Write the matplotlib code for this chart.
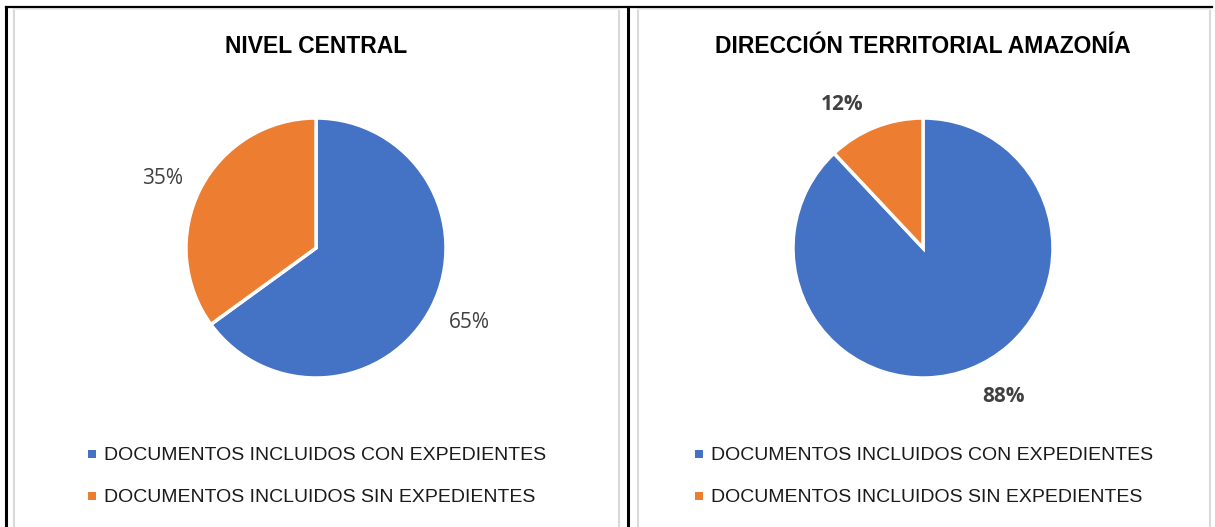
import matplotlib
matplotlib.use("Agg")
import numpy as np
import matplotlib.pyplot as plt
from matplotlib.lines import Line2D
from matplotlib.patches import Rectangle

# Data
categories = ["DOCUMENTOS INCLUIDOS CON EXPEDIENTES",
              "DOCUMENTOS INCLUIDOS SIN EXPEDIENTES"]
titles = ["NIVEL CENTRAL", "DIRECCIÓN TERRITORIAL AMAZONÍA"]
values_central = [65, 35]
values_amazonia = [88, 12]
colors = ["#4472C4", "#ED7D31"]

W, H = 1215, 527
fig = plt.figure(figsize=(W / 100, H / 100), dpi=100)
fig.patch.set_facecolor("white")

sans = ["Liberation Sans", "DejaVu Sans"]
label_font = ["Open Sans", "DejaVu Sans"]


def px(x, y):
    """Pixel (from top-left) to figure fraction."""
    return x / W, 1 - y / H


def draw_panel(cx, values, title, bold_labels, label_dist, label_shift):
    half = 195
    ax = fig.add_axes([(cx - half) / W, (H - 248 - half) / H, 2 * half / W, 2 * half / H])
    wedges, texts, autotexts = ax.pie(
        values, colors=colors, startangle=90, counterclock=False,
        autopct="%1.0f%%", pctdistance=label_dist,
        wedgeprops=dict(edgecolor="white", linewidth=2.5),
        textprops=dict(fontsize=15, color="#404040",
                       family=label_font,
                       fontweight="bold" if bold_labels else "normal"),
    )
    # rotate the percentage labels slightly around the centre (best-fit placement)
    for w, t in zip(wedges, autotexts):
        ang = np.deg2rad((w.theta1 + w.theta2) / 2 + label_shift)
        t.set_position((label_dist * np.cos(ang), label_dist * np.sin(ang)))
        t.set_verticalalignment("center_baseline")
    ax.set_xlim(-1.5, 1.5)
    ax.set_ylim(-1.5, 1.5)
    ax.set_aspect("equal")
    ax.axis("off")

    fig.text(*px(cx, 44), title, ha="center", va="center_baseline",
             fontsize=16.5, fontweight="bold", family=sans, color="black")
    return ax


draw_panel(316, values_central, titles[0], bold_labels=False,
           label_dist=1.305, label_shift=2)
draw_panel(923, values_amazonia, titles[1], bold_labels=True,
           label_dist=1.28, label_shift=7.4)

# Legends
for mx in (92, 699):
    for i, (cat, col) in enumerate(zip(categories, colors)):
        y = 454 + 42 * i
        fig.add_artist(Rectangle(px(mx - 4, y + 4), 8 / W, 8 / H,
                                 transform=fig.transFigure, facecolor=col,
                                 edgecolor="none"))
        fig.text(*px(mx + 12, y), cat, ha="left", va="center_baseline",
                 fontsize=14, family=sans, color="#1a1a1a")

# Panel frames
gray = "#d9d9d9"
for x0, x1 in ((13.5, 618.5), (637.5, 1209.5)):
    fig.add_artist(Line2D([x0 / W, x0 / W], [0, 1 - 8.5 / H], color=gray, lw=1.5,
                          transform=fig.transFigure))
    fig.add_artist(Line2D([x1 / W, x1 / W], [0, 1 - 8.5 / H], color=gray, lw=1.5,
                          transform=fig.transFigure))
    fig.add_artist(Line2D([x0 / W, x1 / W], [1 - 8.5 / H, 1 - 8.5 / H], color="#eeeeee",
                          lw=1.5, transform=fig.transFigure))

# Outer black rules
fig.add_artist(Line2D([5.5 / W, 1212 / W], [1 - 7 / H, 1 - 7 / H], color="black",
                      lw=1.6, transform=fig.transFigure))
fig.add_artist(Line2D([5.5 / W, 5.5 / W], [0, 1 - 7 / H], color="black",
                      lw=2.2, transform=fig.transFigure))
fig.add_artist(Line2D([628 / W, 628 / W], [0, 1 - 7 / H], color="black",
                      lw=2.2, transform=fig.transFigure))

fig.savefig("out.png", dpi=100, facecolor="white")
